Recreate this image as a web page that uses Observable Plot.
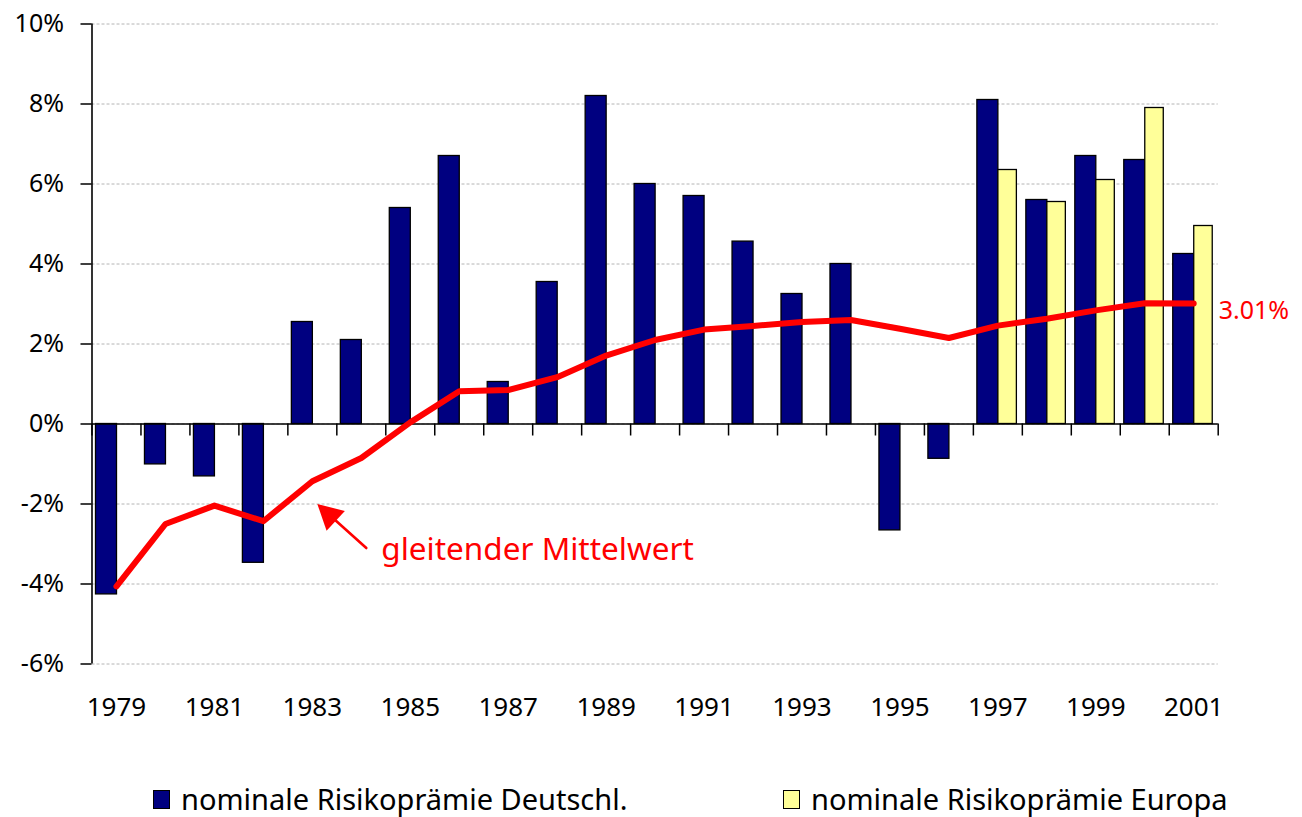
<!DOCTYPE html>
<html>
<head>
<meta charset="utf-8">
<script src="https://cdn.jsdelivr.net/npm/d3@7"></script>
<script src="https://cdn.jsdelivr.net/npm/@observablehq/plot@0.6"></script>
<style>
  body { margin: 0; background: #fff; font-family: "Noto Sans", sans-serif; position: relative; width: 1302px; height: 817px; overflow: hidden; }
  #chart svg { display: block; }
  .legend-item { position: absolute; top: 782px; display: flex; align-items: center; font-size: 29px; color: #000; line-height: 34px; white-space: nowrap; }
  .swatch { width: 15px; height: 17px; border: 1.6px solid #000; margin-right: 11px; }
</style>
</head>
<body>
<div id="chart"></div>
<div class="legend-item" id="leg0" style="left:153px"><span class="swatch" style="background:#000080"></span><span class="lbl"></span></div>
<div class="legend-item" id="leg1" style="left:783px"><span class="swatch" style="background:#FFFF99"></span><span class="lbl"></span></div>
<script>
// ---- data ----
const years = ["1979","1980","1981","1982","1983","1984","1985","1986","1987","1988","1989","1990",
               "1991","1992","1993","1994","1995","1996","1997","1998","1999","2000","2001"];
const deValues = [-4.26, -1.01, -1.31, -3.47, 2.55, 2.1, 5.4, 6.7, 1.05, 3.55, 8.2, 6.0,
                  5.7, 4.56, 3.25, 4.0, -2.66, -0.87, 8.1, 5.6, 6.7, 6.6, 4.25];
const euYears = ["1997","1998","1999","2000","2001"];
const euValues = [6.35, 5.55, 6.1, 7.9, 4.95];
const maValues = [-4.06, -2.5, -2.04, -2.43, -1.43, -0.85, 0.04, 0.82, 0.85, 1.17, 1.71, 2.1,
                  2.36, 2.45, 2.55, 2.6, 2.38, 2.15, 2.46, 2.63, 2.84, 3.02, 3.01];
const yTicks = [-6, -4, -2, 0, 2, 4, 6, 8, 10];
const xTickLabels = ["1979","1981","1983","1985","1987","1989","1991","1993","1995","1997","1999","2001"];
const seriesNames = ["nominale Risikoprämie Deutschl.", "nominale Risikoprämie Europa"];
const maLabel = "gleitender Mittelwert";
const endLabel = "3.01%";
const annotation = [{x1: "1984", y1: -3.1, x2: "1983", y2: -2.0}];

// ---- tables ----
const de = years.map((year, i) => ({year, value: deValues[i]}));
const eu = euYears.map((year, i) => ({year, value: euValues[i]}));
const ma = years.map((year, i) => ({year, value: maValues[i]}));

// ---- layout ----
const W = 1302, H = 745;
const mL = 91.5, mR = 84.3, mT = 23.5, mB = 81.5;
const bw = (W - mL - mR) / years.length;

const red = "#ff0000";
const navy = "#000080";
const yellow = "#FFFF99";

// filled arrowhead (tip at origin, pointing up-left)
const headSymbol = {
  draw(ctx) {
    const ux = -0.735, uy = -0.677, L = 25, hw = 13.5;
    const bx = -ux * L, by = -uy * L;
    const nx = -uy, ny = ux;
    ctx.moveTo(0, 0);
    ctx.lineTo(bx + nx * hw, by + ny * hw);
    ctx.lineTo(bx - nx * hw, by - ny * hw);
    ctx.closePath();
  }
};

const chart = Plot.plot({
  width: W,
  height: H,
  marginLeft: mL,
  marginRight: mR,
  marginTop: mT,
  marginBottom: mB,
  style: {fontFamily: "'Noto Sans', sans-serif", background: "#fff", color: "#000", overflow: "visible"},
  x: {type: "band", domain: years, padding: 0, round: false, label: null},
  y: {domain: [-6, 10], label: null},
  marks: [
    Plot.gridY(yTicks, {stroke: "#b4b4b4", strokeOpacity: 1, strokeDasharray: "3,2", strokeWidth: 1}),
    Plot.barY(de, {x: "year", y: "value", fill: navy, stroke: "#000", strokeWidth: 1.3,
                   insetLeft: 4, insetRight: bw - 25}),
    Plot.barY(eu, {x: "year", y: "value", fill: yellow, stroke: "#000", strokeWidth: 1.3,
                   insetLeft: 25, insetRight: bw - 43.5}),
    Plot.ruleY([0], {stroke: "#000", strokeWidth: 1.6}),
    Plot.ruleX(years, {x: d => d, y1: 0, y2: 0, dx: -bw / 2, insetTop: 0, insetBottom: -12,
                       stroke: "#000", strokeWidth: 1.5}),
    Plot.ruleX([years[years.length - 1]], {x: d => d, y1: 0, y2: 0, dx: bw / 2, insetTop: 0, insetBottom: -12,
                       stroke: "#000", strokeWidth: 1.5}),
    Plot.ruleX([years[0]], {x: d => d, dx: -bw / 2, stroke: "#000", strokeWidth: 1.6}),
    Plot.axisY({ticks: yTicks, tickSize: 11, tickPadding: 17, tickFormat: d => d + "%",
                fontSize: 25, label: null, strokeWidth: 1.5}),
    Plot.axisX({ticks: xTickLabels, tickSize: 0, tickPadding: 34, fontSize: 26, label: null}),
    Plot.line(ma, {x: "year", y: "value", stroke: red, strokeWidth: 6,
                   strokeLinejoin: "round", strokeLinecap: "round"}),
    Plot.text([ma[ma.length - 1]], {x: "year", y: "value", text: () => endLabel, dx: 25, dy: 7,
                   textAnchor: "start", fill: red, fontSize: 25, letterSpacing: "1px"}),
    Plot.arrow(annotation, {x1: "x1", y1: "y1", x2: "x2", y2: "y2", dx: 5, headLength: 0,
                   insetEnd: 22, stroke: red, strokeWidth: 2.6}),
    Plot.dot(annotation, {x: "x2", y: "y2", dx: 5, symbol: headSymbol, fill: red, stroke: "none"}),
    Plot.text(annotation, {x: "x1", y: "y1", text: () => maLabel, dx: 20, dy: 2,
                   textAnchor: "start", fill: red, fontSize: 31.5})
  ]
});
document.getElementById("chart").appendChild(chart);
document.querySelector("#leg0 .lbl").textContent = seriesNames[0];
document.querySelector("#leg1 .lbl").textContent = seriesNames[1];
</script>
</body>
</html>
